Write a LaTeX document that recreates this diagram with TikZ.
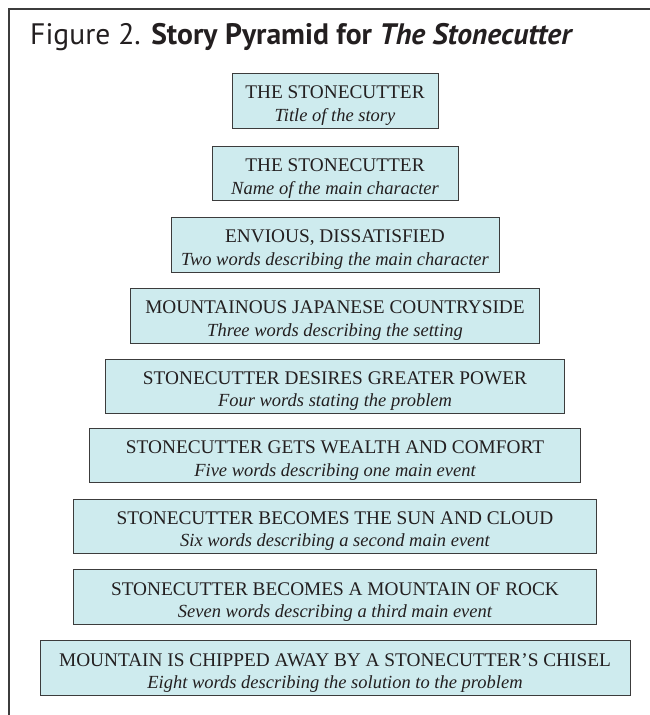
\documentclass[tikz,border=0pt]{standalone}
\usepackage{fontspec}
\setmainfont{Liberation Serif}
\newfontfamily\titlefont{PT Sans}
\definecolor{boxfill}{HTML}{CEEBEE}
\definecolor{ink}{HTML}{231F20}
\definecolor{edge}{HTML}{3C3C3C}
\begin{document}
\begin{tikzpicture}[x=1pt,y=-1pt,
  tier/.style={draw=edge, line width=0.9pt, fill=boxfill, inner sep=0pt, minimum height=54.5pt},
  capline/.style={anchor=base, inner sep=0pt, font=\fontsize{19.3}{22}\selectfont, text=ink},
  subline/.style={anchor=base, inner sep=0pt, font=\fontsize{18.5}{22}\selectfont\itshape, text=ink},
  frameline/.style={draw=edge, line width=1.4pt}]
\useasboundingbox (0,0) rectangle (650,715);
\fill[white] (0,0) rectangle (650,715);
\draw[frameline] (9,716) -- (9,9) -- (651,9);
\node[anchor=base west, inner sep=0pt, font=\titlefont\fontsize{29.6}{32}\selectfont, text=ink] (title) at (30,44.3)
  {Figure 2. \textbf{Story Pyramid for \textit{The Stonecutter}}};

\node[tier, minimum width=206pt] (b1) at (335,100.8) {};
\node[tier, minimum width=246pt] (b2) at (335,173.5) {};
\node[tier, minimum width=328pt] (b3) at (335,244.8) {};
\node[tier, minimum width=409pt] (b4) at (335,315.8) {};
\node[tier, minimum width=459pt] (b5) at (335,386.2) {};
\node[tier, minimum width=491pt] (b6) at (335,455.5) {};
\node[tier, minimum width=523pt] (b7) at (335,526.2) {};
\node[tier, minimum width=523pt] (b8) at (335,597) {};
\node[tier, minimum width=590pt] (b9) at (335,668) {};

\node[capline] (c1) at ([yshift=2pt]b1.center) {THE STONECUTTER};
\node[subline] (s1) at ([yshift=-20.5pt]b1.center) {Title of the story};
\node[capline] (c2) at ([yshift=2pt]b2.center) {THE STONECUTTER};
\node[subline] (s2) at ([yshift=-20.5pt]b2.center) {Name of the main character};
\node[capline] (c3) at ([yshift=2pt]b3.center) {ENVIOUS, DISSATISFIED};
\node[subline] (s3) at ([yshift=-20.5pt]b3.center) {Two words describing the main character};
\node[capline] (c4) at ([yshift=2pt]b4.center) {MOUNTAINOUS JAPANESE COUNTRYSIDE};
\node[subline] (s4) at ([yshift=-20.5pt]b4.center) {Three words describing the setting};
\node[capline] (c5) at ([yshift=2pt]b5.center) {STONECUTTER DESIRES GREATER POWER};
\node[subline] (s5) at ([yshift=-20.5pt]b5.center) {Four words stating the problem};
\node[capline] (c6) at ([yshift=2pt]b6.center) {STONECUTTER GETS WEALTH AND COMFORT};
\node[subline] (s6) at ([yshift=-20.5pt]b6.center) {Five words describing one main event};
\node[capline] (c7) at ([yshift=2pt]b7.center) {STONECUTTER BECOMES THE SUN AND CLOUD};
\node[subline] (s7) at ([yshift=-20.5pt]b7.center) {Six words describing a second main event};
\node[capline] (c8) at ([yshift=2pt]b8.center) {STONECUTTER BECOMES A MOUNTAIN OF ROCK};
\node[subline] (s8) at ([yshift=-20.5pt]b8.center) {Seven words describing a third main event};
\node[capline] (c9) at ([yshift=2pt]b9.center) {MOUNTAIN IS CHIPPED AWAY BY A STONECUTTER’S CHISEL};
\node[subline] (s9) at ([yshift=-20.5pt]b9.center) {Eight words describing the solution to the problem};
\end{tikzpicture}
\end{document}
